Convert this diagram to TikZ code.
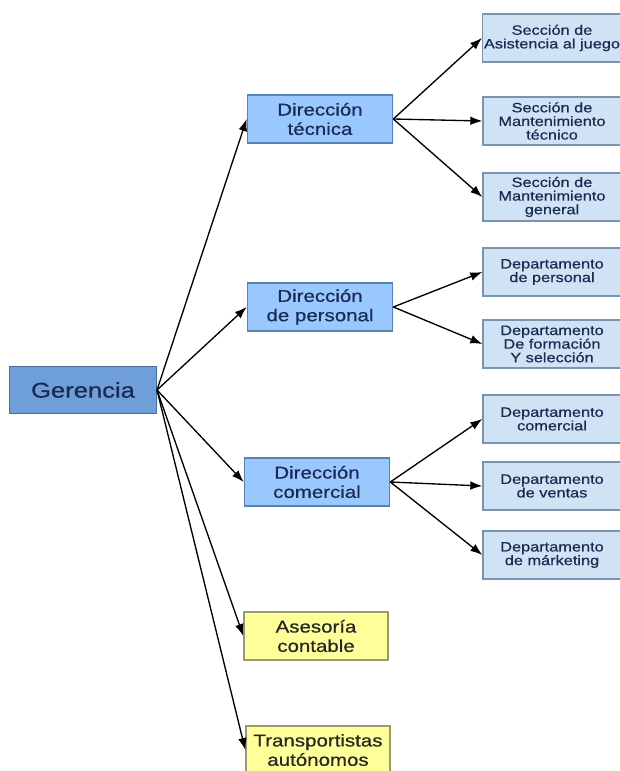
\documentclass[tikz,border=0pt]{standalone}
\usepackage{fontspec}
\setmainfont[FakeStretch=1.2,FakeBold=0.6]{Liberation Sans}
\usetikzlibrary{arrows.meta}
\definecolor{gerfill}{HTML}{6F9FD8}
\definecolor{gerdraw}{HTML}{4A6E9C}
\definecolor{dirfill}{HTML}{99C7FF}
\definecolor{dirdraw}{HTML}{5A82B0}
\definecolor{secfill}{HTML}{CFE3F5}
\definecolor{secdraw}{HTML}{7A94B0}
\definecolor{yelfill}{HTML}{FFFF99}
\definecolor{yeldraw}{HTML}{9A9A70}
\definecolor{navytext}{HTML}{1A2A50}
\tikzset{
  gerbox/.style={draw=gerdraw, fill=gerfill, line width=1pt, minimum width=110pt, minimum height=35pt, inner sep=1pt, font=\fontsize{16}{17}\selectfont, text=navytext},
  dirbox/.style={draw=dirdraw, fill=dirfill, line width=1pt, minimum width=109pt, minimum height=36pt, inner sep=1pt, align=center, font=\fontsize{12.8}{14.5}\selectfont, text=navytext},
  secbox/.style={draw=secdraw, fill=secfill, line width=1pt, minimum width=103.5pt, minimum height=36pt, inner sep=1pt, align=center, font=\fontsize{10.2}{10.2}\selectfont, text=navytext},
  yelbox/.style={draw=yeldraw, fill=yelfill, line width=1pt, minimum width=108pt, minimum height=36pt, inner sep=1pt, align=center, font=\fontsize{12.8}{14.5}\selectfont, text=black!85},
  conn/.style={draw=black, line width=1pt, -{Latex[length=9pt,width=6.5pt]}}
}
\begin{document}
\begin{tikzpicture}[x=0.75pt,y=-0.75pt]
\useasboundingbox[fill=white] (0,0) rectangle (620,771);
\node[gerbox] (ger) at (83,390) {Gerencia};
\node[dirbox] (tec) at (320,119) {Dirección\\técnica};
\node[dirbox] (per) at (320,307) {Dirección\\de personal};
\node[dirbox] (com) at (317,482) {Dirección\\comercial};
\node[yelbox] (ase) at (316,636) {Asesoría\\contable};
\node[yelbox] (tra) at (318,750) {Transportistas\\autónomos};
\node[secbox] (s1) at (552,38) {Sección de\\Asistencia al juego};
\node[secbox] (s2) at (552,121) {Sección de\\Mantenimiento\\técnico};
\node[secbox] (s3) at (552,197) {Sección de\\Mantenimiento\\general};
\node[secbox] (d1) at (552,272) {Departamento\\de personal};
\node[secbox] (d2) at (552,344) {Departamento\\De formación\\Y selección};
\node[secbox] (d3) at (552,419) {Departamento\\comercial};
\node[secbox] (d4) at (552,486) {Departamento\\de ventas};
\node[secbox] (d5) at (552,555) {Departamento\\de márketing};
\foreach \t in {tec,per,com,ase,tra} \draw[conn] (ger.east) -- (\t.west);
\foreach \t in {s1,s2,s3} \draw[conn] (tec.east) -- (\t.west);
\foreach \t in {d1,d2} \draw[conn] (per.east) -- (\t.west);
\foreach \t in {d3,d4,d5} \draw[conn] (com.east) -- (\t.west);
\end{tikzpicture}
\end{document}
